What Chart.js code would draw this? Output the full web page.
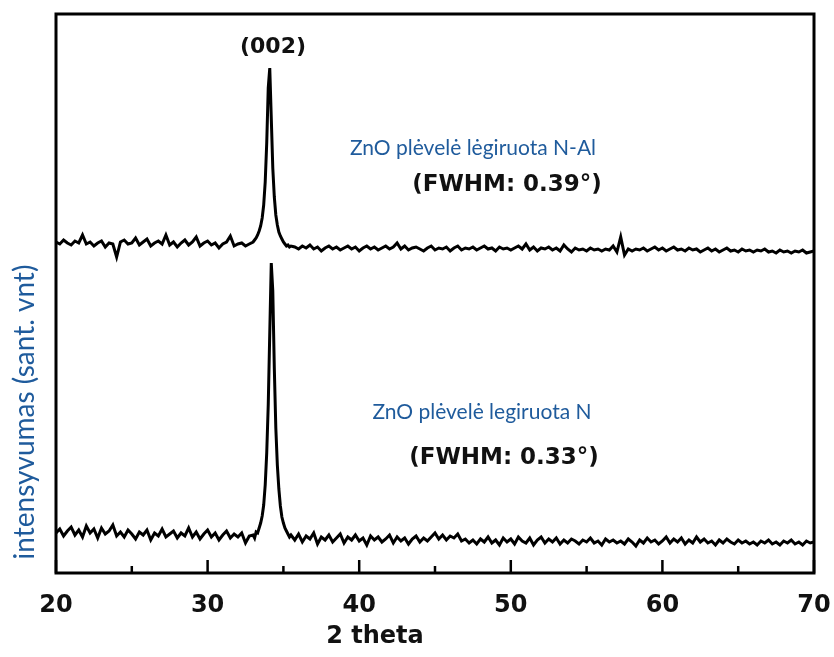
<!DOCTYPE html>
<html>
<head>
<meta charset="utf-8">
<script src="https://cdn.jsdelivr.net/npm/chart.js@4.4.1/dist/chart.umd.min.js"></script>
<style>
  html, body { margin: 0; padding: 0; background: #fff; }
  #wrap { width: 834px; height: 657px; position: relative; }
</style>
</head>
<body>
<div id="wrap"><canvas id="xrd"></canvas></div>
<script>
// ---- data (intensity in arbitrary units) ----
const twoThetaLeft = [
  20, 20.25, 20.5, 20.75,
  21, 21.25, 21.5, 21.75,
  22, 22.25, 22.5, 22.75,
  23, 23.25, 23.5, 23.75,
  24, 24.25, 24.5, 24.75,
  25, 25.25, 25.5, 25.75,
  26, 26.25, 26.5, 26.75,
  27, 27.25, 27.5, 27.75,
  28, 28.25, 28.5, 28.75,
  29, 29.25, 29.5, 29.75,
  30, 30.25, 30.5, 30.75,
  31, 31.25, 31.5, 31.75,
  32, 32.25, 32.5, 32.75
];
const twoThetaPeak = [
  33.0, 33.1, 33.2, 33.3, 33.4, 33.5, 33.6, 33.7, 33.8, 33.9,
  34.0, 34.1, 34.2, 34.3, 34.4, 34.5, 34.6, 34.7, 34.8, 34.9,
  35.0, 35.1, 35.2, 35.3, 35.4, 35.5
];
const twoThetaRight = [
  35.75, 36, 36.25, 36.5,
  36.75, 37, 37.25, 37.5,
  37.75, 38, 38.25, 38.5,
  38.75, 39, 39.25, 39.5,
  39.75, 40, 40.25, 40.5,
  40.75, 41, 41.25, 41.5,
  41.75, 42, 42.25, 42.5,
  42.75, 43, 43.25, 43.5,
  43.75, 44, 44.25, 44.5,
  44.75, 45, 45.25, 45.5,
  45.75, 46, 46.25, 46.5,
  46.75, 47, 47.25, 47.5,
  47.75, 48, 48.25, 48.5,
  48.75, 49, 49.25, 49.5,
  49.75, 50, 50.25, 50.5,
  50.75, 51, 51.25, 51.5,
  51.75, 52, 52.25, 52.5,
  52.75, 53, 53.25, 53.5,
  53.75, 54, 54.25, 54.5,
  54.75, 55, 55.25, 55.5,
  55.75, 56, 56.25, 56.5,
  56.75, 57, 57.25, 57.5,
  57.75, 58, 58.25, 58.5,
  58.75, 59, 59.25, 59.5,
  59.75, 60, 60.25, 60.5,
  60.75, 61, 61.25, 61.5,
  61.75, 62, 62.25, 62.5,
  62.75, 63, 63.25, 63.5,
  63.75, 64, 64.25, 64.5,
  64.75, 65, 65.25, 65.5,
  65.75, 66, 66.25, 66.5,
  66.75, 67, 67.25, 67.5,
  67.75, 68, 68.25, 68.5,
  68.75, 69, 69.25, 69.5,
  69.75, 70
];

// ZnO film doped with N-Al (upper trace)
const nalLeft = [
  331, 329, 333, 330,
  328, 332, 330, 338,
  329, 331, 327, 330,
  332, 326, 330, 329,
  316, 331, 333, 329,
  330, 335, 328, 331,
  334, 327, 330, 332,
  329, 338, 328, 331,
  326, 330, 333, 328,
  331, 336, 327, 330,
  332, 328, 330, 325,
  329, 331, 337, 327,
  329, 330, 327, 329
];
const nalPeak = [
  331, 333, 335, 338, 342, 347, 355, 368, 391, 430,
  485, 505, 455, 405, 376, 358, 348, 341, 337, 334,
  331, 329, 327, 328, 326, 327
];
const nalRight = [
  326, 324, 327, 325,
  328, 324, 326, 322,
  325, 327, 324, 326,
  323, 325, 327, 324,
  326, 322, 325, 327,
  324, 326, 323, 325,
  327, 324, 326, 330,
  324, 327, 323, 325,
  326, 324, 322, 325,
  327, 323, 325, 324,
  326, 322, 325, 327,
  323, 325, 324, 326,
  323, 325, 327, 324,
  325, 322, 326, 324,
  325, 323, 325, 327,
  324, 329, 323, 326,
  322, 325, 324, 326,
  323, 325, 322, 328,
  324, 321, 325, 323,
  324, 322, 325, 323,
  324, 322, 324, 323,
  327, 321, 336, 318,
  324, 322, 324, 323,
  325, 322, 324, 326,
  323, 325, 322, 324,
  326, 323, 324, 322,
  325, 323, 324, 321,
  323, 325, 322, 324,
  321, 323, 325, 322,
  323, 321, 324, 322,
  323, 321, 323, 322,
  324, 321, 322, 320,
  323, 321, 322, 320,
  322, 321, 323, 320,
  321, 322
];

// ZnO film doped with N (lower trace)
const nLeft = [
  40, 44, 37, 42,
  46, 38, 43, 36,
  47, 40, 44, 35,
  45, 39, 42, 48,
  37, 41, 36, 43,
  39, 34, 41, 38,
  43, 33, 40, 37,
  44, 36, 39, 42,
  35, 40, 37, 45,
  36, 41, 34, 39,
  43, 36, 40, 33,
  38, 42, 35, 39,
  36, 40, 30, 37
];
const nPeak = [
  38, 35, 41, 40, 45, 50, 57, 68, 88, 120,
  168, 240, 310, 282, 205, 145, 108, 84, 67, 56,
  50, 45, 42, 39, 36, 38
];
const nRight = [
  33, 39, 31, 37,
  34, 40, 29, 36,
  33, 38, 31, 35,
  39, 30, 36, 33,
  38, 32, 35, 28,
  37, 33, 36, 31,
  34, 38, 30, 36,
  32, 35, 29, 34,
  37, 31, 35, 32,
  36, 40, 34, 38,
  33, 37, 35, 39,
  32, 34, 30, 33,
  29, 34, 31, 36,
  30, 33, 28, 35,
  31, 34, 29, 36,
  32, 30, 35, 28,
  33, 36, 30, 34,
  31, 35, 29, 33,
  30, 34, 32, 29,
  33, 31, 35, 30,
  32, 28, 34, 31,
  33, 30, 32, 29,
  34, 31, 27, 33,
  30, 35, 31, 33,
  29, 32, 36, 30,
  34, 31, 35, 29,
  33, 30, 36, 31,
  34, 30, 32, 28,
  33, 30, 34, 31,
  29, 33, 30, 32,
  29, 31, 28, 32,
  30, 33, 29, 31,
  28, 32, 30, 33,
  29, 31, 28, 32,
  30, 31
];

const xTicks = [20, 30, 40, 50, 60, 70];
const xMinorTicks = [25, 35, 45, 55, 65];

// ---- helpers ----
const twoTheta = twoThetaLeft.concat(twoThetaPeak, twoThetaRight);
function toPoints(ys) {
  return twoTheta.map((x, i) => ({ x: x, y: ys[i] }));
}

const BOLD = '"DejaVu Sans", Arial, sans-serif';
const LABEL_BLUE = '#1f5b9c';

// frame, inner tick marks and text annotations
const decorations = {
  id: 'decorations',
  afterDraw(chart) {
    const { ctx, chartArea: a, scales } = chart;
    const xs = scales.x;
    ctx.save();

    // tick marks pointing inward from the bottom axis
    ctx.strokeStyle = '#000';
    ctx.lineWidth = 2.5;
    xTicks.forEach(v => {
      const px = xs.getPixelForValue(v);
      ctx.beginPath(); ctx.moveTo(px, a.bottom); ctx.lineTo(px, a.bottom - 13); ctx.stroke();
    });
    xMinorTicks.forEach(v => {
      const px = xs.getPixelForValue(v);
      ctx.beginPath(); ctx.moveTo(px, a.bottom); ctx.lineTo(px, a.bottom - 7); ctx.stroke();
    });

    // plot frame
    ctx.lineWidth = 3;
    ctx.strokeRect(a.left, a.top, a.right - a.left, a.bottom - a.top);

    ctx.textAlign = 'center';
    ctx.textBaseline = 'middle';

    ctx.fillStyle = '#111';
    ctx.font = 'bold 22px ' + BOLD;
    ctx.fillText('(002)', 273, 47);

    ctx.font = 'bold 23px ' + BOLD;
    ctx.fillText('(FWHM: 0.39°)', 507, 185);
    ctx.fillText('(FWHM: 0.33°)', 504, 458);

    ctx.font = 'bold 24px ' + BOLD;
    ctx.fillText('2 theta', 375, 637);

    ctx.fillStyle = LABEL_BLUE;
    ctx.font = '21px Lato, "Open Sans", sans-serif';
    ctx.fillText('ZnO plėvelė lėgiruota N-Al', 473, 148);
    ctx.fillText('ZnO plėvelė legiruota N', 482, 412);

    ctx.translate(25, 412);
    ctx.rotate(-Math.PI / 2);
    ctx.font = '28px Lato, "Open Sans", sans-serif';
    ctx.fillText('intensyvumas (sant. vnt)', 0, 0);

    ctx.restore();
  }
};

new Chart(document.getElementById('xrd'), {
  type: 'line',
  data: {
    datasets: [
      {
        label: 'ZnO plėvelė lėgiruota N-Al',
        data: toPoints(nalLeft.concat(nalPeak, nalRight)),
        borderColor: '#000',
        borderWidth: 3,
        pointRadius: 0,
        tension: 0,
      },
      {
        label: 'ZnO plėvelė legiruota N',
        data: toPoints(nLeft.concat(nPeak, nRight)),
        borderColor: '#000',
        borderWidth: 3,
        pointRadius: 0,
        tension: 0,
      },
    ],
  },
  options: {
    responsive: true,
    maintainAspectRatio: false,
    animation: false,
    layout: { padding: { left: 56, right: 20, top: 14, bottom: 0 } },
    plugins: {
      legend: { display: false },
      tooltip: { enabled: false },
    },
    scales: {
      x: {
        type: 'linear',
        min: 20,
        max: 70,
        grid: { display: false },
        border: { display: false },
        ticks: {
          stepSize: 10,
          padding: 10,
          color: '#111',
          font: { family: BOLD, size: 24, weight: 'bold' },
          maxRotation: 0,
        },
        afterFit(scale) {
          scale.height = 84;
          scale.paddingLeft = 0;
          scale.paddingRight = 0;
        },
      },
      y: {
        display: false,
        min: 0,
        max: 559,
      },
    },
  },
  plugins: [decorations],
});
</script>
</body>
</html>
